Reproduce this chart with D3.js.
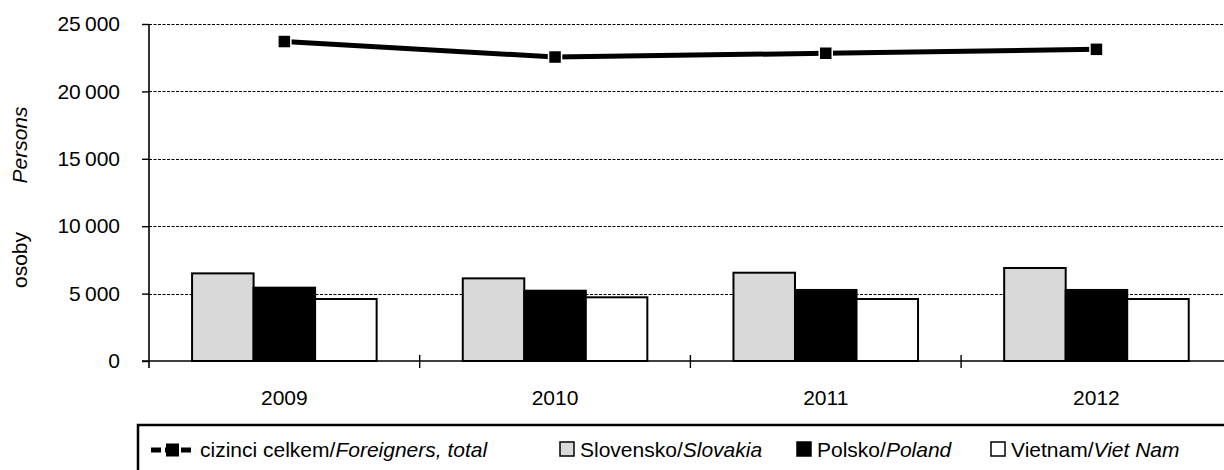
<!DOCTYPE html>
<html>
<head>
<meta charset="utf-8">
<script src="https://cdn.jsdelivr.net/npm/d3@7/dist/d3.min.js"></script>
<style>
  body { margin: 0; background: #fff; }
  svg { display: block; font-family: "Liberation Sans", Arial, sans-serif; }
</style>
</head>
<body>
<div id="chart"></div>
<script>
const years = ['2009', '2010', '2011', '2012'];
const seriesNames = ['Slovensko', 'Polsko', 'Vietnam'];
const slovensko = [6500, 6130, 6550, 6900];
const polsko = [5440, 5215, 5270, 5270];
const vietnam = [4600, 4725, 4600, 4600];
const foreignersTotal = [23700, 22550, 22830, 23120];
const yTicks = [0, 5000, 10000, 15000, 20000, 25000];

const barFill = { Slovensko: '#d9d9d9', Polsko: '#000', Vietnam: '#fff' };
const barValues = { Slovensko: slovensko, Polsko: polsko, Vietnam: vietnam };

const width = 1224, height = 470;
const plotLeft = 149, plotTop = 24, plotBottom = 361;
const plotRight = plotLeft + 4 * 270.7;
const fontSize = 21;

const svg = d3.select('#chart').append('svg')
    .attr('width', width)
    .attr('height', height);

svg.append('rect').attr('width', width).attr('height', height).attr('fill', '#fff');

const x = d3.scaleBand().domain(years).range([plotLeft, plotRight]).padding(0);
const x1 = d3.scaleBand().domain(seriesNames).range([0, x.bandwidth()])
    .paddingInner(0).paddingOuter(0.7);
const y = d3.scaleLinear().domain([0, 25000]).range([plotBottom, plotTop]);

const fmt = v => d3.format(',')(v).replace(/,/g, '\u2009');

// gridlines
svg.append('g')
    .selectAll('line')
    .data(yTicks.filter(t => t > 0))
    .join('line')
    .attr('x1', plotLeft).attr('x2', width)
    .attr('y1', d => Math.round(y(d)) + 0.5)
    .attr('y2', d => Math.round(y(d)) + 0.5)
    .attr('stroke', '#000')
    .attr('stroke-width', 1)
    .attr('stroke-dasharray', '3,1.5');

// bars
const groups = svg.append('g')
    .selectAll('g')
    .data(years)
    .join('g')
    .attr('transform', d => `translate(${x(d)},0)`);

groups.selectAll('rect')
    .data((d, i) => seriesNames.map(s => ({ s, v: barValues[s][i] })))
    .join('rect')
    .attr('x', d => x1(d.s))
    .attr('y', d => y(d.v))
    .attr('width', x1.bandwidth())
    .attr('height', d => plotBottom - y(d.v))
    .attr('fill', d => barFill[d.s])
    .attr('stroke', '#000')
    .attr('stroke-width', 2);

// y axis
const yAxis = svg.append('g')
    .attr('transform', `translate(${plotLeft},0)`)
    .call(d3.axisLeft(y).tickValues(yTicks).tickSize(7).tickPadding(22).tickFormat(fmt));
yAxis.select('.domain').attr('stroke-width', 1.6).attr('d', `M0,${plotTop}V${plotBottom + 7}`);
yAxis.selectAll('.tick line').attr('stroke-width', 1.4);
yAxis.selectAll('.tick text').attr('font-size', fontSize).attr('fill', '#000')
    .attr('font-family', '"Liberation Sans", Arial, sans-serif');

// x axis
const xAxis = svg.append('g')
    .attr('transform', `translate(0,${plotBottom})`);
xAxis.append('line')
    .attr('x1', plotLeft - 7).attr('x2', width)
    .attr('stroke', '#000').attr('stroke-width', 1.6);
xAxis.selectAll('line.tk')
    .data(years)
    .join('line')
    .attr('class', 'tk')
    .attr('x1', d => x(d) + x.bandwidth())
    .attr('x2', d => x(d) + x.bandwidth())
    .attr('y1', -6).attr('y2', 7)
    .attr('stroke', '#000').attr('stroke-width', 1.4);
xAxis.selectAll('text')
    .data(years)
    .join('text')
    .attr('x', d => x(d) + x.bandwidth() / 2)
    .attr('y', 44)
    .attr('text-anchor', 'middle')
    .attr('font-size', fontSize)
    .text(d => d);

// total line
const cx = d => x(d) + x.bandwidth() / 2;
const line = d3.line().x((d, i) => cx(years[i])).y(d => y(d));
svg.append('path')
    .datum(foreignersTotal)
    .attr('d', line)
    .attr('fill', 'none')
    .attr('stroke', '#000')
    .attr('stroke-width', 5);
svg.append('g')
    .selectAll('rect')
    .data(foreignersTotal)
    .join('rect')
    .attr('x', (d, i) => cx(years[i]) - 6.5)
    .attr('y', d => y(d) - 6.5)
    .attr('width', 13).attr('height', 13)
    .attr('fill', '#000')
    .attr('stroke', '#fff')
    .attr('stroke-width', 1.5);

// y axis title
svg.append('text')
    .attr('transform', 'translate(27,260) rotate(-90)')
    .attr('text-anchor', 'middle')
    .attr('font-size', fontSize)
    .text('osoby');
svg.append('text')
    .attr('transform', 'translate(27,145) rotate(-90)')
    .attr('text-anchor', 'middle')
    .attr('font-size', fontSize)
    .attr('font-style', 'italic')
    .text('Persons');

// legend
svg.append('rect')
    .attr('x', 138).attr('y', 425)
    .attr('width', 1200).attr('height', 100)
    .attr('fill', 'none').attr('stroke', '#000').attr('stroke-width', 2.5);

const legendY = 457;
const lg = svg.append('g').attr('font-size', fontSize);

lg.append('line').attr('x1', 151).attr('x2', 195)
    .attr('y1', legendY - 7).attr('y2', legendY - 7)
    .attr('stroke', '#000').attr('stroke-width', 5)
    .attr('stroke-dasharray', '10,4,12,4,10');
lg.append('rect').attr('x', 166).attr('y', legendY - 13.5)
    .attr('width', 13).attr('height', 13).attr('fill', '#000');

const legendItems = [
  { x: 200, plain: 'cizinci celkem/', it: 'Foreigners, total', sym: null },
  { x: 580, plain: 'Slovensko/', it: 'Slovakia', sym: '#d9d9d9' },
  { x: 817, plain: 'Polsko/', it: 'Poland', sym: '#000' },
  { x: 1011, plain: 'Vietnam/', it: 'Viet Nam', sym: '#fff' }
];

legendItems.forEach(d => {
  if (d.sym) {
    lg.append('rect')
      .attr('x', d.x - 20).attr('y', legendY - 15)
      .attr('width', 14).attr('height', 14)
      .attr('fill', d.sym).attr('stroke', '#000').attr('stroke-width', 1.5);
  }
  const t = lg.append('text').attr('x', d.x).attr('y', legendY);
  t.append('tspan').text(d.plain);
  t.append('tspan').attr('font-style', 'italic').text(d.it);
});
</script>
</body>
</html>
